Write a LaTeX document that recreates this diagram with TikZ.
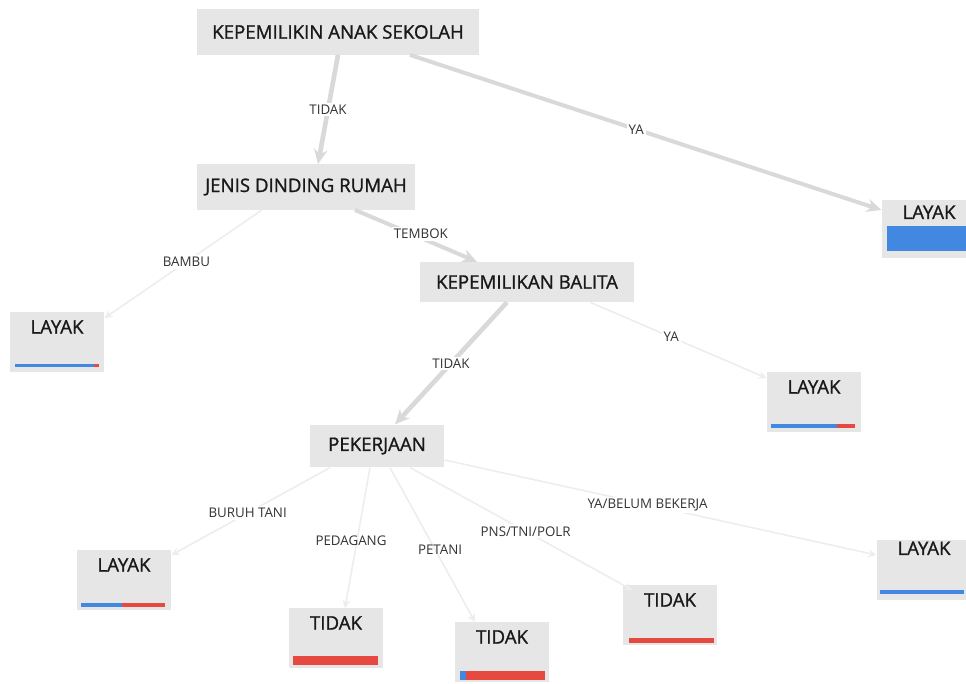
\documentclass[tikz,border=0pt]{standalone}
\usepackage{fontspec}
\setmainfont{Open Sans}
\newfontfamily\heavier{Open Sans}[FakeBold=1.2]
\usetikzlibrary{arrows.meta}
\definecolor{boxgray}{HTML}{E6E6E6}
\definecolor{edgegray}{HTML}{D9D9D9}
\definecolor{faintgray}{HTML}{EDEDED}
\definecolor{layakblue}{HTML}{4287E0}
\definecolor{tidakred}{HTML}{E5493F}
\tikzset{
  split/.style={fill=boxgray, inner sep=0pt, font=\heavier\fontsize{14}{16}\selectfont,
    text=black!90},
  leaf/.style={fill=boxgray, anchor=north, inner xsep=0pt, inner ysep=0pt,
    minimum width=71pt, text height=16pt, text depth=29pt,
    font=\heavier\fontsize{14}{16}\selectfont, text=black!90},
  branch/.style={-{Stealth[length=11pt,width=10pt]}, line width=3.5pt, draw=edgegray},
  twig/.style={-{Stealth[length=6pt,width=6pt]}, line width=1.2pt, draw=faintgray},
  elabel/.style={font=\fontsize{10}{12}\selectfont, fill=white, inner sep=1.5pt,
    text=black!80},
}

\begin{document}
\begin{tikzpicture}[x=0.75pt,y=-0.75pt]
\useasboundingbox (0,0) rectangle (966,684);
% splitting nodes
\node[split, minimum width=212pt, minimum height=34pt] (root) at (338,32) {KEPEMILIKIN ANAK SEKOLAH};
\node[split, minimum width=163pt, minimum height=34pt] (dinding) at (306,187) {JENIS DINDING RUMAH};
\node[split, minimum width=161pt, minimum height=30pt] (balita) at (527,282) {KEPEMILIKAN BALITA};
\node[split, minimum width=101pt, minimum height=32pt] (kerja) at (377,446) {PEKERJAAN};
% leaves
\node[leaf, text height=14pt, text depth=29.5pt] (layakA) at (929,200) {LAYAK};
\node[leaf] (layakB) at (57,312) {LAYAK};
\node[leaf] (layakC) at (814,372) {LAYAK};
\node[leaf] (layakD) at (124,550) {LAYAK};
\node[leaf] (tidakA) at (336,608) {TIDAK};
\node[leaf] (tidakB) at (502,622) {TIDAK};
\node[leaf] (tidakC) at (670,585) {TIDAK};
\node[leaf, text height=11pt, text depth=34pt] (layakE) at (924,540) {LAYAK};
% class bars
\fill[layakblue] ([shift={(6,-8)}]layakA.south west) rectangle ++(90,-25);
\fill[layakblue] ([shift={(6,-6)}]layakB.south west) rectangle ++(79,-3);
\fill[tidakred] ([shift={(85,-6)}]layakB.south west) rectangle ++(5,-3);
\fill[layakblue] ([shift={(5,-5)}]layakC.south west) rectangle ++(66,-4);
\fill[tidakred] ([shift={(71,-5)}]layakC.south west) rectangle ++(18,-4);
\fill[layakblue] ([shift={(5,-4)}]layakD.south west) rectangle ++(41,-4);
\fill[tidakred] ([shift={(46,-4)}]layakD.south west) rectangle ++(43,-4);
\fill[tidakred] ([shift={(5,-4)}]tidakA.south west) rectangle ++(85,-9);
\fill[layakblue] ([shift={(6,-3)}]tidakB.south west) rectangle ++(6,-9);
\fill[tidakred] ([shift={(12,-3)}]tidakB.south west) rectangle ++(79,-9);
\fill[tidakred] ([shift={(7,-3)}]tidakC.south west) rectangle ++(85,-5);
\fill[layakblue] ([shift={(4,-7)}]layakE.south west) rectangle ++(84,-4);
% connectors
\draw[branch] (root.south) -- ([shift={(12,0)}]dinding.north)
  node[elabel, pos=0.5] {TIDAK};
\draw[branch, line width=3pt] ([shift={(72,0)}]root.south) -- ([shift={(0,10)}]layakA.north west)
  node[elabel, pos=0.48] {YA};
\draw[twig] ([shift={(-44,0)}]dinding.south) -- ([shift={(0,6)}]layakB.north east)
  node[elabel, pos=0.48] {BAMBU};
\draw[branch, line width=3pt] ([shift={(49,0)}]dinding.south) -- ([shift={(-50,0)}]balita.north)
  node[elabel, pos=0.54, shift={(0,-4)}] {TEMBOK};
\draw[branch] ([shift={(-20,0)}]balita.south) -- ([shift={(18,0)}]kerja.north)
  node[elabel, pos=0.5] {TIDAK};
\draw[twig] ([shift={(63,0)}]balita.south) -- ([shift={(0,6)}]layakC.north west)
  node[elabel, pos=0.46] {YA};
\draw[twig] ([shift={(-47,0)}]kerja.south) -- ([shift={(0,5)}]layakD.north east)
  node[elabel, pos=0.52] {BURUH TANI};
\draw[twig] ([shift={(-7,0)}]kerja.south) -- ([shift={(9,0)}]tidakA.north)
  node[elabel, pos=0.52, fill=none, shift={(-6,0)}] {PEDAGANG};
\draw[twig] ([shift={(13,0)}]kerja.south) -- ([shift={(-27,0)}]tidakB.north)
  node[elabel, pos=0.53, fill=none, shift={(5,0)}] {PETANI};
\draw[twig] ([shift={(33,0)}]kerja.south) -- ([shift={(10,5)}]tidakC.north west)
  node[elabel, pos=0.52] {PNS/TNI/POLR};
\draw[twig] ([shift={(0,14)}]kerja.east) -- ([shift={(0,15)}]layakE.north west)
  node[elabel, pos=0.47] {YA/BELUM BEKERJA};
\end{tikzpicture}
\end{document}
